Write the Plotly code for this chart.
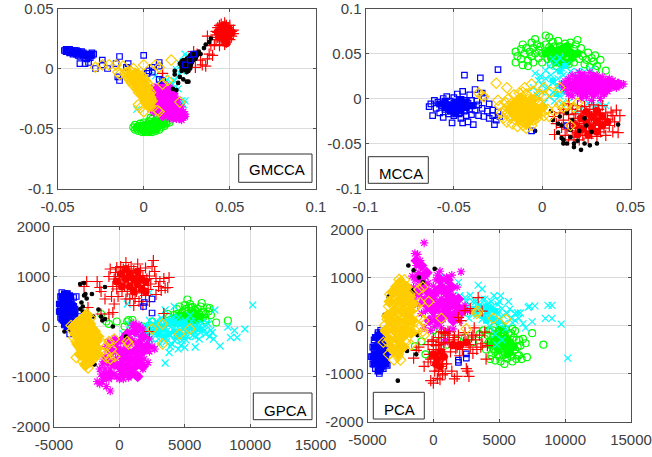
import plotly.graph_objects as go

W, H = 652, 457

# ---------- GMCCA ----------
g1_green = [(-.006,-.049),(-.005,-.047),(-.005,-.051),(-.004,-.05),(-.003,-.048),(-.003,-.052),(-.002,-.046),(-.002,-.05),(-.001,-.053),(-.001,-.048),(0,-.051),(0,-.045),(.001,-.049),(.001,-.053),(.002,-.047),(.002,-.051),(.003,-.044),(.003,-.049),(.003,-.053),(.004,-.046),(.004,-.051),(.005,-.042),(.005,-.048),(.005,-.053),(.006,-.045),(.006,-.05),(.007,-.043),(.007,-.047),(.007,-.052),(.008,-.049),(.008,-.045),(.009,-.051),(.009,-.047),(.01,-.044),(.01,-.049),(.011,-.046),(.012,-.048),(.012,-.045),(.013,-.046),(.014,-.044),(.015,-.045),(.004,-.041)]
g1_cyan = [(.024,.012),(.021,.004),(.022,-.002),(.02,-.006),(.018,-.01),(.016,-.012),(.013,-.01),(.012,-.008),(.009,-.012),(.007,-.006),(.017,-.019),(.02,-.017),(.023,-.03),(.024,-.027),(.021,-.03),(-.004,-.034),(.015,-.03),(.016,-.014),(.018,-.016),(.026,.01),(.023,.006),(.019,-.001),(.014,-.015),(.011,-.011),(.022,-.027),(.025,.009),(.023,-.002)]
g1_magenta = [(.005,-.018),(.005,-.023),(.006,-.016),(.006,-.021),(.006,-.027),(.007,-.02),(.007,-.025),(.007,-.031),(.008,-.015),(.008,-.019),(.008,-.024),(.008,-.029),(.008,-.034),(.009,-.017),(.009,-.022),(.009,-.027),(.009,-.032),(.01,-.014),(.01,-.019),(.01,-.024),(.01,-.03),(.01,-.036),(.011,-.016),(.011,-.021),(.011,-.026),(.011,-.033),(.012,-.013),(.012,-.018),(.012,-.023),(.012,-.029),(.012,-.037),(.013,-.015),(.013,-.02),(.013,-.026),(.013,-.032),(.013,-.039),(.014,-.018),(.014,-.023),(.014,-.03),(.014,-.036),(.015,-.016),(.015,-.021),(.015,-.027),(.015,-.034),(.015,-.041),(.016,-.019),(.016,-.025),(.016,-.031),(.016,-.038),(.017,-.022),(.017,-.028),(.017,-.035),(.017,-.042),(.018,-.025),(.018,-.031),(.018,-.038),(.019,-.028),(.019,-.035),(.019,-.042),(.02,-.026),(.02,-.032),(.02,-.039),(.021,-.034),(.021,-.04),(.022,-.032),(.022,-.038),(.022,-.043),(.023,-.036),(.023,-.041),(.024,-.04),(.024,-.038),(.004,-.034),(.006,-.037),(.011,-.04)]
g1_red = [(.042,.031),(.042,.028),(.043,.034),(.043,.03),(.043,.026),(.044,.036),(.044,.032),(.044,.028),(.044,.024),(.045,.037),(.045,.033),(.045,.029),(.045,.025),(.046,.035),(.046,.031),(.046,.027),(.046,.023),(.047,.038),(.047,.033),(.047,.029),(.047,.024),(.047,.02),(.048,.036),(.048,.031),(.048,.027),(.048,.022),(.049,.034),(.049,.03),(.049,.025),(.05,.036),(.05,.032),(.05,.028),(.05,.024),(.051,.031),(.051,.027),(.052,.029),(.052,.032),(.038,.012),(.033,.007),(.031,.012),(.036,.002),(.029,.014),(.011,-.004),(.041,.02),(.044,.019),(.037,.027),(.042,.024),(.04,.011),(.037,.008),(.03,.001),(.039,.019),(.034,.003)]
g1_black = [(.021,.004),(.022,.006),(.022,.001),(.023,.003),(.023,.007),(.024,-.001),(.024,.005),(.024,.002),(.025,.008),(.025,.004),(.025,-.003),(.025,0),(.026,.006),(.026,.002),(.026,-.002),(.026,.009),(.027,.004),(.027,.011),(.027,.007),(.027,0),(.028,.009),(.028,.005),(.028,.012),(.029,.007),(.029,.01),(.03,.013),(.03,.008),(.031,.011),(.032,.014),(.033,.012),(.036,.02),(.038,.022),(.035,.017),(.018,-.002),(.02,-.012),(.025,-.011),(.017,-.017),(.022,-.002),(.018,-.005),(.021,-.007),(.023,-.009),(.026,-.011),(.019,-.018),(.039,.025)]
g1_blue = [(-.046,.015),(-.045,.014),(-.045,.016),(-.044,.015),(-.043,.013),(-.043,.016),(-.042,.015),(-.041,.014),(-.041,.012),(-.04,.015),(-.04,.013),(-.039,.012),(-.039,.015),(-.038,.014),(-.038,.011),(-.037,.013),(-.037,.01),(-.036,.012),(-.036,.014),(-.035,.011),(-.035,.013),(-.034,.009),(-.034,.012),(-.033,.011),(-.033,.008),(-.032,.01),(-.031,.012),(-.031,.009),(-.03,.011),(-.03,.013),(-.029,.012),(-.037,.004),(-.034,.004),(-.032,.005),(-.028,0),(-.024,.007),(-.024,.003),(-.021,0),(-.016,.004),(-.014,.01),(-.014,-.01),(-.015,-.007),(-.01,.001),(-.009,.004),(0,.011),(.003,-.002),(.005,-.003),(.002,-.004),(.009,.005),(.009,-.009),(.011,-.01),(.009,.002),(.005,.001),(.027,.007),(.024,.003),(.029,.012)]
g1_yellow = [(-.011,-.004),(-.01,-.006),(-.009,-.003),(-.009,-.008),(-.008,-.005),(-.008,-.01),(-.007,-.003),(-.007,-.008),(-.007,-.012),(-.006,-.006),(-.006,-.01),(-.006,-.014),(-.005,-.004),(-.005,-.008),(-.005,-.012),(-.004,-.006),(-.004,-.01),(-.004,-.014),(-.004,-.017),(-.003,-.005),(-.003,-.009),(-.003,-.013),(-.003,-.017),(-.003,-.02),(-.002,-.007),(-.002,-.011),(-.002,-.015),(-.002,-.019),(-.001,-.006),(-.001,-.01),(-.001,-.014),(-.001,-.018),(-.001,-.022),(0,-.008),(0,-.012),(0,-.016),(0,-.02),(0,-.024),(.001,-.01),(.001,-.014),(.001,-.018),(.001,-.022),(.001,-.026),(.002,-.012),(.002,-.016),(.002,-.02),(.002,-.024),(.002,-.028),(.003,-.014),(.003,-.018),(.003,-.022),(.003,-.026),(.003,-.03),(.004,-.02),(.004,-.024),(.004,-.028),(-.028,.001),(-.024,.003),(-.02,.003),(-.016,.003),(-.012,.002),(-.015,-.003),(-.014,-.005),(-.006,0),(0,.003),(.007,.003),(.009,.001),(.016,.007),(.011,-.013),(.014,-.01),(.004,-.025),(.005,-.027),(.021,-.028),(.008,-.035),(.009,-.036),(-.003,-.03),(0,-.036),(.004,-.031),(-.002,-.033)]
# dense middles of the GMCCA clusters
g1_green_core = [(-.004,-.049),(-.002,-.05),(0,-.049),(.002,-.05),(.004,-.05),(.006,-.049),(.008,-.048),(.01,-.047),(.012,-.046),(.004,-.046),(.007,-.044),(.001,-.047),(0,-.052),(.004,-.052),(.007,-.051)]
g1_cyan_core = []
g1_magenta_core = [(.006,-.02),(.009,-.016),(.012,-.015),(.015,-.017),(.017,-.021),(.007,-.025),(.011,-.021),(.014,-.022),(.018,-.026),(.008,-.03),(.012,-.027),(.015,-.028),(.019,-.031),(.009,-.035),(.013,-.033),(.016,-.034),(.02,-.036),(.011,-.039),(.015,-.039),(.018,-.04),(.021,-.041),(.023,-.04)]
g1_red_core = [(.043,.03),(.045,.026),(.045,.034),(.047,.03),(.047,.024),(.047,.036),(.049,.028),(.049,.033),(.051,.03),(.048,.021)]
g1_black_core = [(.024,.002),(.026,.005),(.025,-.001),(.028,.008),(.027,.003),(.03,.01)]
g1_blue_core = [(-.045,.015),(-.042,.014),(-.039,.013),(-.036,.012),(-.033,.011),(-.031,.011)]
g1_yellow_core = [(-.008,-.006),(-.005,-.005),(-.006,-.01),(-.003,-.009),(-.004,-.014),(-.001,-.012),(-.002,-.018),(.001,-.017),(0,-.022),(.003,-.021),(.001,-.027),(.004,-.027),(.003,-.031),(-.003,-.006)]

# ---------- MCCA ----------
g2_green = [(-.015,.04),(-.015,.052),(-.014,.047),(-.012,.055),(-.012,.044),(-.011,.037),(-.011,.06),(-.01,.05),(-.009,.056),(-.008,.042),(-.008,.036),(-.007,.052),(-.006,.062),(-.006,.047),(-.005,.04),(-.005,.056),(-.004,.066),(-.004,.05),(-.003,.06),(-.002,.045),(-.002,.054),(-.001,.058),(0,.04),(0,.05),(.002,.07),(.002,.06),(.003,.052),(.003,.044),(.004,.068),(.004,.057),(.005,.047),(.005,.038),(.006,.063),(.006,.053),(.007,.042),(.007,.058),(.008,.048),(.008,.036),(.009,.064),(.009,.053),(.01,.043),(.01,.058),(.011,.048),(.012,.037),(.012,.056),(.013,.061),(.013,.05),(.014,.044),(.015,.057),(.015,.038),(.016,.062),(.016,.051),(.017,.046),(.018,.055),(.018,.04),(.019,.06),(.02,.05),(.02,.065),(.021,.044),(.022,.056),(.023,.047),(.024,.038),(.025,.043),(.026,.051),(.027,.035),(.028,.045),(.029,.041),(.03,.048),(.031,.036),(.036,.031),(.033,.043),(.03,.032)]
g2_cyan = [(-.005,.012),(-.003,.004),(-.002,.02),(-.004,.028),(-.001,.025),(0,.015),(0,.007),(.001,-.005),(.002,.031),(.002,.022),(.003,.012),(.004,.002),(.004,.036),(.005,.026),(.006,.017),(.006,.007),(.007,-.003),(.008,.04),(.008,.031),(.009,.022),(.009,.012),(.01,.045),(.01,.003),(.011,.034),(.011,-.006),(.012,.026),(.013,.016),(.013,.006),(.014,.038),(.015,-.004),(.016,.03),(.017,-.01),(.018,.008),(.019,-.014),(.02,.03),(.022,-.012),(.024,.03),(.026,-.005),(.028,.032),(.03,-.008),(.033,-.006),(.036,-.008),(.006,.044)]
g2_magenta = [(.011,.016),(.012,.012),(.013,.019),(.014,.015),(.014,.009),(.015,.022),(.015,.005),(.016,.017),(.016,.012),(.017,.026),(.017,.003),(.018,.019),(.018,.009),(.019,.014),(.019,.024),(.02,.006),(.02,.018),(.021,.029),(.021,.011),(.022,.022),(.022,0),(.023,.015),(.023,.005),(.024,.026),(.024,.01),(.025,.019),(.025,.002),(.026,.013),(.026,.023),(.027,.007),(.027,.029),(.028,.017),(.028,-.002),(.029,.011),(.029,.024),(.03,.004),(.03,.018),(.031,.013),(.031,.026),(.032,.008),(.032,.02),(.033,.015),(.033,0),(.034,.024),(.034,.01),(.035,.017),(.035,.005),(.036,.021),(.036,.012),(.037,.016),(.037,.008),(.038,.022),(.038,.011),(.039,.017),(.04,.013),(.04,.02),(.041,.015),(.042,.012),(.043,.017),(.044,.014),(.045,.016),(.046,.016)]
g2_red = [(.007,-.02),(.008,-.028),(.007,-.04),(.01,-.016),(.011,-.032),(.012,-.012),(.012,-.024),(.013,-.041),(.014,-.034),(.015,-.006),(.015,-.018),(.015,-.046),(.016,-.028),(.017,-.036),(.017,-.012),(.018,-.022),(.018,-.043),(.019,-.03),(.019,-.017),(.02,-.038),(.02,-.008),(.021,-.025),(.021,-.046),(.022,-.033),(.022,-.014),(.023,-.02),(.023,-.041),(.024,-.028),(.024,-.009),(.025,-.036),(.025,-.016),(.026,-.024),(.026,-.044),(.027,-.031),(.027,-.012),(.028,-.02),(.028,-.039),(.029,-.027),(.029,-.007),(.03,-.034),(.03,-.015),(.031,-.023),(.031,-.042),(.032,-.03),(.032,-.012),(.033,-.037),(.033,-.019),(.034,-.026),(.034,-.008),(.035,-.033),(.036,-.016),(.036,-.041),(.037,-.023),(.038,-.03),(.039,-.015),(.04,-.037),(.04,-.019),(.041,-.026),(.042,-.013),(.043,-.038),(.044,-.019)]
g2_black = [(.006,-.024),(.005,-.014),(.009,-.028),(.009,-.038),(.011,-.044),(.012,-.05),(.012,-.046),(.014,-.05),(.016,-.035),(.018,-.05),(.018,-.054),(.02,-.047),(.022,-.057),(.024,-.05),(.025,-.03),(.027,-.052),(.031,-.05),(.043,-.029),(.017,-.024),(.014,-.016),(.021,-.036),(.024,-.022),(.028,-.037),(.011,-.03),(.016,-.043),(-.004,-.036),(.01,-.02)]
g2_blue = [(-.064,-.009),(-.063,-.006),(-.062,-.019),(-.061,-.002),(-.06,-.011),(-.059,-.004),(-.058,-.016),(-.057,-.008),(-.056,0),(-.056,-.021),(-.055,-.012),(-.055,-.005),(-.054,.002),(-.053,-.017),(-.053,-.009),(-.052,-.003),(-.052,-.014),(-.051,-.027),(-.051,-.007),(-.05,-.011),(-.05,.001),(-.05,-.019),(-.049,-.005),(-.049,-.014),(-.048,-.009),(-.048,.005),(-.047,-.002),(-.047,-.017),(-.046,-.011),(-.046,-.022),(-.045,-.006),(-.045,.008),(-.045,-.027),(-.044,-.014),(-.044,-.002),(-.043,-.009),(-.043,-.019),(-.042,-.026),(-.042,-.005),(-.041,-.012),(-.041,.004),(-.04,-.018),(-.04,-.002),(-.039,-.029),(-.039,-.008),(-.038,.01),(-.038,-.013),(-.037,-.003),(-.036,-.019),(-.036,-.007),(-.034,-.011),(-.033,.001),(-.033,-.02),(-.031,-.014),(-.03,-.006),(-.03,-.022),(-.028,-.013),(-.028,-.019),(-.027,-.029),(-.026,-.024),(-.025,-.015),(-.024,-.02),(-.044,.026),(-.035,.023),(-.025,.032),(-.006,-.036),(.014,-.03),(-.034,.006)]
g2_yellow = [(-.025,-.002),(-.024,-.008),(-.023,-.016),(-.022,-.022),(-.021,-.012),(-.021,-.004),(-.02,-.026),(-.02,-.017),(-.019,-.008),(-.019,0),(-.018,-.021),(-.018,-.012),(-.017,-.028),(-.017,-.005),(-.016,-.018),(-.016,.004),(-.015,-.01),(-.015,-.024),(-.014,-.031),(-.014,-.015),(-.014,-.002),(-.013,-.021),(-.013,-.008),(-.013,.006),(-.012,-.027),(-.012,-.013),(-.012,-.003),(-.011,-.03),(-.011,-.018),(-.011,-.007),(-.011,.007),(-.01,-.023),(-.01,-.011),(-.01,-.002),(-.009,-.033),(-.009,-.016),(-.009,-.007),(-.009,.005),(-.008,-.026),(-.008,-.012),(-.008,-.001),(-.007,-.021),(-.007,-.006),(-.006,-.03),(-.006,-.015),(-.006,-.003),(-.005,-.024),(-.005,-.009),(-.005,.008),(-.004,-.018),(-.004,-.002),(-.003,-.012),(-.003,-.022),(-.002,-.005),(-.002,.004),(-.001,-.016),(0,-.01),(.001,-.019),(.001,.003),(.003,-.012),(-.036,.006),(-.033,.002),(-.026,.017),(-.02,.012),(-.01,.012),(-.006,.016),(.01,.012),(.005,.007),(.012,-.01),(.008,-.012),(.014,-.008),(.016,-.03),(.02,-.005),(.018,-.01),(.004,-.02),(-.034,.003),(.001,.012),(.01,-.007)]
# dense middles of the MCCA clusters
g2_green_core = [(.002,.05),(.005,.045),(.005,.055),(.008,.05),(.008,.04),(.011,.045),(.011,.055),(.014,.05),(.014,.04),(.017,.05),(.017,.045),(.02,.05),(.011,.038),(.014,.058)]
g2_cyan_core = [(.006,.02),(.009,.014),(.01,.03),(.012,.008),(.013,.036),(.008,.005)]
g2_magenta_core = [(.017,.014),(.02,.02),(.02,.01),(.023,.015),(.023,.006),(.023,.024),(.026,.012),(.026,.02),(.029,.015),(.029,.006),(.029,.023),(.032,.012),(.032,.02),(.035,.015),(.035,.007),(.038,.014),(.038,.019),(.041,.015),(.043,.016)]
g2_red_core = [(.019,-.03),(.02,-.04),(.022,-.022),(.023,-.034),(.025,-.015),(.025,-.027),(.026,-.04),(.028,-.02),(.028,-.032),(.031,-.025),(.031,-.014),(.031,-.037),(.034,-.03),(.034,-.02),(.037,-.026)]
g2_black_core = []
g2_blue_core = [(-.058,-.006),(-.055,-.01),(-.055,-.003),(-.052,-.007),(-.052,-.014),(-.049,-.004),(-.049,-.011),(-.046,-.007),(-.046,-.014),(-.046,-.001),(-.043,-.01),(-.043,-.004),(-.04,-.008),(-.049,-.017)]
g2_yellow_core = [(-.018,-.012),(-.015,-.006),(-.015,-.018),(-.012,0),(-.012,-.012),(-.012,-.024),(-.009,-.006),(-.009,-.018),(-.009,-.028),(-.006,-.012),(-.006,-.002),(-.006,-.022),(-.003,-.012),(-.003,-.018),(0,-.01)]

# ---------- GPCA ----------
g3_green = [(4000,150),(4200,230),(4300,80),(4400,350),(4500,200),(4600,400),(4700,100),(4800,280),(4900,180),(5000,430),(5000,320),(5100,130),(5200,540),(5200,250),(5300,380),(5300,100),(5400,450),(5400,200),(5500,300),(5500,120),(5600,390),(5600,220),(5700,170),(5700,280),(5800,330),(5800,100),(5900,210),(6000,350),(6000,130),(6100,250),(6200,400),(6300,470),(6300,180),(6400,300),(6600,120),(6800,300),(6900,370),(7000,230),(7400,80),(8300,120),(-1400,250),(-1000,100),(-200,100),(600,100),(400,0),(1800,0),(2500,100),(-800,50),(700,130),(3400,80),(3800,190),(1000,130),(4100,100),(4400,250),(4800,150),(5100,350),(5500,380),(5800,250),(6100,150),(6400,180),(6600,250),(6700,380),(5200,50),(3700,250)]
g3_cyan = [(300,-150),(600,450),(800,40),(1100,-100),(1300,-50),(1600,-150),(1900,20),(2000,-250),(2200,-100),(2300,120),(2400,-350),(2500,40),(2700,-150),(2800,100),(3000,-50),(3000,-250),(3200,170),(3300,-100),(3400,20),(3500,-230),(3500,-730),(3600,120),(3700,-70),(3800,-520),(3800,50),(3900,-170),(4000,130),(4100,-60),(4200,-280),(4300,30),(4400,-130),(4500,180),(4600,-60),(4700,-380),(4800,60),(4900,-170),(5000,120),(5100,-270),(5200,10),(5300,-100),(5400,220),(5500,-20),(5600,-180),(5800,-410),(5900,-50),(6000,50),(6200,-120),(6400,-30),(6600,-150),(6900,-200),(7000,-70),(7200,-250),(7300,330),(7700,-390),(8300,-10),(8500,-220),(8800,-80),(9000,-220),(9600,-50),(10200,430),(2300,680),(3500,330),(4200,400),(6700,80),(2000,-100),(2500,-250),(2700,30),(3100,-350),(3300,120),(3600,-300),(4000,-350),(4100,180),(4400,-250),(4800,-280),(5200,-200),(5500,100),(5800,-200),(6100,-250),(6300,60),(6500,-80),(6800,50),(7100,-120),(5000,-420),(4500,-450),(3900,-400),(3100,-100),(2400,-50)]
g3_magenta = [(-1700,-1100),(-1500,-1150),(-1400,-950),(-1300,-1100),(-1300,-750),(-1200,-1000),(-1100,-850),(-1100,-600),(-1000,-1200),(-1000,-950),(-900,-700),(-900,-450),(-800,-1050),(-700,-1290),(-700,-850),(-700,-600),(-600,-1000),(-600,-350),(-500,-750),(-500,-500),(-400,-950),(-400,-250),(-300,-650),(-200,-1000),(-200,-400),(-100,-800),(0,-550),(0,-1050),(100,-300),(100,-900),(200,-700),(300,-1050),(300,-450),(400,-800),(400,-200),(500,-600),(500,-950),(600,-350),(700,-1020),(700,-750),(800,-100),(800,-500),(900,-850),(1000,-280),(1000,-650),(1000,20),(1100,-950),(1200,-450),(1300,-780),(1300,-120),(1400,-1000),(1400,-600),(1500,-300),(1600,-750),(1600,-30),(1700,-500),(1800,-850),(1900,-650),(2000,-200),(2100,-350),(2200,-720),(2300,-500),(2500,-400),(2000,-450),(1100,60),(1300,-20),(-1500,-850),(-1200,-650),(-1000,-400),(-800,-300),(2700,-450),(2300,-250),(1800,-50),(1500,30)]
g3_red = [(-800,1000),(-700,1150),(-600,600),(-500,800),(-400,950),(-400,450),(-300,1080),(-200,1180),(-200,750),(-100,600),(0,1000),(100,1200),(100,850),(200,950),(200,700),(300,1150),(400,1050),(400,800),(500,550),(500,1280),(600,1000),(600,700),(700,1150),(700,870),(800,1020),(800,550),(900,1200),(900,780),(1000,950),(1000,650),(1100,1120),(1100,420),(1200,850),(1200,560),(1300,1010),(1300,700),(1400,1250),(1400,930),(1500,780),(1500,500),(1600,1120),(1600,880),(1700,670),(1800,1020),(1800,430),(1900,820),(2000,1170),(2000,620),(2100,950),(2200,740),(2300,1010),(2300,500),(2400,850),(2500,1200),(2600,1320),(2700,1100),(2800,960),(2800,640),(3000,800),(3100,900),(3200,720),(3400,960),(3500,770),(3700,780),(3800,980),(-1700,900),(-1500,780),(-1400,700),(-2700,800),(-2500,900),(-2400,380),(-1400,250),(-800,250),(-500,280),(2300,-100),(3400,260),(-1100,550)]
g3_black = [(-3000,850),(-2700,870),(-2600,650),(-2500,560),(-2100,650),(-2900,480),(-2800,400),(-3000,350),(-1600,340),(-1100,790),(-1400,200),(-1100,150),(-4200,-100),(-3800,-50),(-1900,-760),(500,-200),(-500,0),(-2000,200),(-1300,120),(-1800,-100),(-2700,620),(-2800,300)]
g3_blue = [(-4600,450),(-4600,300),(-4500,600),(-4500,350),(-4500,180),(-4400,500),(-4400,250),(-4400,680),(-4300,400),(-4300,120),(-4300,560),(-4200,280),(-4200,650),(-4200,30),(-4100,450),(-4100,160),(-4100,580),(-4000,350),(-4000,660),(-4000,80),(-3900,230),(-3900,500),(-3900,0),(-3800,400),(-3800,620),(-3800,130),(-3700,300),(-3700,530),(-3600,180),(-3600,430),(-3500,280),(-3500,580),(-3400,350),(-3300,600),(-3000,200),(-3800,-150),(1900,480),(1850,400),(2500,550),(2500,270),(-3600,100)]
g3_yellow = [(-3700,20),(-3600,-80),(-3500,0),(-3500,-220),(-3400,-130),(-3300,-620),(-3300,60),(-3300,-300),(-3200,-210),(-3100,100),(-3100,-80),(-3100,-400),(-3000,-270),(-3000,-570),(-2900,0),(-2900,-180),(-2900,-460),(-2800,170),(-2800,-350),(-2800,-700),(-2700,-90),(-2700,-260),(-2700,-540),(-2600,60),(-2600,-430),(-2600,-780),(-2500,250),(-2500,-170),(-2500,-320),(-2500,-650),(-2400,0),(-2400,-500),(-2400,-830),(-2300,-100),(-2300,-250),(-2300,-400),(-2300,-720),(-2200,170),(-2200,-580),(-2100,-30),(-2100,-330),(-2100,-480),(-2000,-180),(-2000,-650),(-1900,-400),(-1900,-90),(-1800,-270),(-1800,-530),(-1700,-450),(-1600,-200),(-1000,-400),(-700,-650),(-350,-600),(-1000,-550),(-800,-300),(-600,-450),(-400,-250),(600,-300),(700,-350),(2500,-50),(3300,50),(4600,-150),(5400,-50),(3300,-350),(-1000,-620),(-1200,-350)]
# dense middles of the GPCA clusters
g3_green_core = [(4300,180),(4700,220),(5100,200),(5500,230),(5900,220),(5300,130),(5700,130),(6200,200),(4500,120)]
g3_cyan_core = [(1800,-50),(2200,0),(2600,-100),(3000,-150),(3000,50),(3400,-50),(3800,-150),(3800,50),(4200,-100),(4200,80),(4600,-100),(4600,50),(5000,-30),(5000,80),(5400,0),(1400,-150),(5800,-20),(3400,-200),(4400,-200),(5200,-100),(5700,-100),(6100,-50),(2800,-50),(4800,-200),(3600,100)]
g3_magenta_core = [(-1100,-1000),(-900,-700),(-700,-950),(-600,-500),(-400,-750),(-300,-300),(0,-500),(0,-800),(300,-650),(300,-250),(300,-950),(600,-500),(600,-150),(600,-800),(900,-300),(900,-650),(900,-950),(1200,-500),(1200,-100),(1200,-800),(1500,-350),(1500,-650),(1800,-500),(1800,-200),(1800,-800),(2100,-400),(1400,-1000)]
g3_red_core = [(-200,900),(100,1050),(200,800),(500,950),(500,1150),(800,800),(800,1050),(1100,950),(1100,700),(1400,1100),(1400,850),(1700,950),(1700,750),(2000,900),(2000,700)]
g3_black_core = []
g3_blue_core = [(-4300,350),(-4300,500),(-4300,200),(-4100,100),(-4100,300),(-4100,450),(-4100,600),(-3900,200),(-3900,350),(-3900,500),(-3700,300),(-3700,450),(-3600,350),(-4500,450),(-4500,300),(-4400,600),(-4400,150),(-4200,650),(-4200,50),(-4000,650),(-3800,600),(-3700,150),(-3500,400),(-3400,250),(-4000,0)]
g3_yellow_core = [(-3000,-100),(-3000,-300),(-2700,0),(-2700,-200),(-2700,-400),(-2700,-600),(-2400,100),(-2400,-100),(-2400,-300),(-2400,-500),(-2400,-700),(-2100,-100),(-2100,-300),(-2100,-500),(-1800,-300),(-1800,-450),(-2500,200),(-3500,0),(-3300,-150),(-3300,50),(-3200,-350),(-2900,100),(-2900,-450),(-2600,200),(-2600,-750),(-2250,50),(-2200,-650),(-1900,-100),(-1700,-200),(-1700,-550),(-3000,-550)]

# ---------- PCA ----------
g4_green = [(-1400,-430),(-900,-330),(-600,-600),(400,-200),(0,-100),(1000,-400),(1800,-300),(2400,-250),(3000,-350),(3500,-180),(3900,-280),(4000,-500),(4200,-100),(4300,-400),(4400,-620),(4500,-250),(4600,-30),(4600,-500),(4700,-730),(4800,-180),(4800,-380),(4900,-600),(5000,-280),(5000,-100),(5100,-480),(5100,-750),(5200,-20),(5200,-370),(5300,-620),(5300,-200),(5400,-800),(5500,-470),(5500,-80),(5600,-300),(5600,-690),(5700,-180),(5800,-560),(5900,-400),(6000,-750),(6000,-70),(6200,-500),(6300,-300),(6200,-110),(6500,-620),(6600,-420),(6700,-700),(6800,-280),(7000,-370),(7100,-660),(7500,-160),(8350,-400),(5900,-160),(6400,-630),(4100,-200),(4300,-700),(4500,-100),(4700,-550),(5000,-650),(5300,-500),(5400,-150),(5700,-400),(5900,-650),(6100,-250),(6300,-700),(6400,-450),(6500,-300),(4200,-350),(3800,-100)]
g4_cyan = [(1900,900),(2000,620),(2400,580),(2600,400),(2800,630),(3000,500),(3300,210),(3400,840),(3500,420),(3700,760),(3700,130),(3900,550),(4000,250),(4200,380),(4300,-20),(4400,500),(4500,140),(4600,620),(4700,-180),(4800,300),(4900,440),(5000,30),(5100,620),(5200,-300),(5300,210),(5500,-70),(5700,500),(5800,340),(6000,60),(6200,100),(6400,260),(6500,150),(6600,260),(6800,40),(7000,-50),(7200,380),(7300,400),(7500,80),(7700,410),(8500,150),(8700,420),(9000,420),(9000,150),(9700,30),(10200,-680),(3000,350),(3600,300),(4200,130),(4800,-400),(1000,900),(500,1000),(2100,300),(2500,500),(2900,250),(3200,500),(3400,330),(3700,550),(3900,350),(4100,450),(4300,250),(4500,400),(4700,150),(4900,250),(5000,500),(5200,350),(5400,50),(5600,250),(5900,150),(6200,250),(2700,150)]
g4_magenta = [(-1600,1030),(-1500,800),(-1500,550),(-1400,1500),(-1400,950),(-1300,650),(-1300,1250),(-1200,1480),(-1200,430),(-1100,1100),(-1100,820),(-1000,1350),(-1000,600),(-900,950),(-900,250),(-800,1200),(-800,480),(-700,1720),(-700,780),(-700,-50),(-600,1020),(-600,300),(-500,580),(-400,880),(-400,120),(-300,400),(-200,700),(-200,-100),(-100,500),(0,820),(0,200),(100,640),(100,-20),(200,950),(200,400),(300,1050),(300,120),(400,700),(500,1130),(500,300),(600,550),(600,-50),(700,820),(700,130),(800,420),(800,980),(900,650),(900,-350),(1000,220),(1000,1000),(1100,500),(1100,-100),(1200,780),(1300,370),(1400,1050),(1400,120),(1500,620),(1500,-70),(1600,240),(1700,430),(1800,800),(2100,1120),(2000,100),(2200,350),(2400,420),(2600,300),(900,-300)]
g4_red = [(-1500,-680),(-1300,-520),(-1100,-450),(-700,-850),(-400,-400),(-400,-760),(-300,-600),(-200,-1150),(0,-1200),(0,-500),(-100,-330),(100,-950),(100,-680),(200,-420),(200,-830),(300,-1100),(300,-600),(400,-250),(400,-950),(400,-740),(500,-1130),(500,-500),(600,-850),(600,-130),(700,-1030),(700,-650),(800,-380),(900,-1000),(900,-170),(1000,-800),(1200,-130),(1300,-550),(1400,-950),(1500,-300),(1600,-1110),(1700,-480),(1800,-1060),(1900,-200),(2000,-630),(2100,100),(2300,-350),(2400,310),(2500,-900),(2700,-1060),(2700,-400),(2800,350),(2900,-240),(3000,-580),(3100,-50),(3300,-500),(3400,580),(3500,-200),(3700,300),(3700,-380),(3900,-140),(4100,-420),(4000,-700),(2600,-950),(1100,-200),(1900,170),(0,-300),(200,-600),(600,-350),(800,-150),(1200,-350),(1600,-250),(1800,-450),(2200,-500),(2400,-150),(2800,-450),(3200,-300),(3000,-200),(3600,-450),(-200,-700),(400,-400),(700,-800)]
g4_black = [(-1900,1250),(-1500,1150),(100,1180),(-2000,750),(-1300,-600),(-2000,-530),(-2700,-1150),(-3500,200),(-3400,600),(-3700,220),(-1700,750),(-1600,700),(-3200,700),(-2600,800),(-2300,900),(-2000,250),(-1100,1000),(-3000,-100),(-1200,-200),(-800,900)]
g4_blue = [(-4700,-650),(-4600,-450),(-4600,-800),(-4500,-550),(-4500,-300),(-4400,-700),(-4400,-900),(-4300,-450),(-4300,-250),(-4300,-600),(-4200,-800),(-4200,-150),(-4200,-400),(-4100,-550),(-4100,-950),(-4100,-700),(-4100,-1000),(-4000,-300),(-4000,-100),(-4000,-480),(-4000,-850),(-3900,-620),(-3900,-200),(-3800,-400),(-3800,-750),(-3800,-900),(-3700,-550),(-3700,-300),(-3600,-650),(-3600,-450),(-3500,-830),(-3500,-550),(1900,-770),(1900,-720),(2500,-590),(2500,-680),(-3300,-550),(-4500,-800)]
g4_yellow = [(-3700,0),(-3600,-130),(-3500,130),(-3500,-340),(-3400,400),(-3400,-50),(-3400,-600),(-3300,650),(-3300,230),(-3200,-180),(-3200,450),(-3100,30),(-3100,-400),(-3100,700),(-3000,310),(-3000,-100),(-3000,-720),(-2900,560),(-2900,130),(-2900,-310),(-2800,810),(-2800,-500),(-2800,-30),(-2700,400),(-2700,230),(-2700,-650),(-2600,960),(-2600,620),(-2600,60),(-2600,-210),(-2500,-720),(-2500,320),(-2500,720),(-2400,-100),(-2400,880),(-2300,500),(-2300,130),(-2300,-200),(-2200,950),(-2200,640),(-2200,310),(-2100,50),(-2100,-350),(-2000,800),(-2000,450),(-1900,180),(-1900,-80),(-1800,650),(-1800,300),(-1700,500),(-1700,-400),(-1600,120),(-1500,350),(-1400,-100),(-1100,750),(-800,800),(-1000,480),(-350,500),(600,150),(-1000,150),(-700,100),(-700,-200),(3350,300),(3300,250),(4550,150),(5500,130),(2500,-70),(-3800,-350),(-2300,-200),(-1300,400),(-1100,-50),(-800,-120)]
# dense middles of the PCA clusters
g4_green_core = [(4600,-300),(4900,-200),(4900,-500),(5200,-350),(5200,-100),(5500,-450),(5500,-250),(5800,-350),(5800,-550),(6100,-450),(4800,-350),(4400,-400),(5000,-400),(5600,-600)]
g4_cyan_core = [(3500,400),(3800,200),(4100,300),(4400,150),(4700,300),(3100,350),(4000,100),(5000,100),(4400,350),(4000,400),(3700,350),(3200,250),(4600,100)]
g4_magenta_core = [(-1300,1350),(-1200,1000),(-1100,700),(-900,1250),(-900,1000),(-700,850),(-700,500),(-400,700),(-400,400),(-300,100),(-100,550),(0,300),(200,700),(300,400),(300,100),(500,950),(600,500),(700,200),(900,700),(1000,350),(1100,950),(1200,550),(1300,200),(1500,450),(1800,400),(1400,800),(500,100),(800,250),(1000,700),(1300,600),(1500,100),(1700,250),(1900,550),(2200,300),(600,800),(-500,1100)]
g4_red_core = [(300,-700),(500,-850),(600,-550),(1500,-400),(2000,-400),(2500,-350),(0,-600),(200,-800),(800,-650)]
g4_black_core = []
g4_blue_core = [(-4400,-600),(-4300,-450),(-4300,-750),(-4100,-300),(-4100,-550),(-4100,-800),(-3900,-400),(-3900,-650),(-3900,-850),(-3700,-500),(-3700,-700),(-4200,-200),(-4000,-900),(-4600,-650),(-4500,-450),(-4500,-800),(-4400,-250),(-4200,-950),(-4000,-150),(-3700,-300),(-3600,-800),(-3600,-550)]
g4_yellow_core = [(-3200,100),(-2950,-100),(-2950,300),(-2700,-300),(-2700,100),(-2700,500),(-2400,-100),(-2400,300),(-2400,650),(-2100,100),(-2100,500),(-2100,800),(-1800,300),(-1800,600),(-1600,450),(-2500,-450),(-2200,-200),(-3600,-100),(-3500,200),(-3300,-300),(-3300,500),(-3100,-500),(-3000,700),(-2800,800),(-2700,-600),(-2500,900),(-2300,-450),(-2000,-100),(-1900,150),(-1600,100),(-1700,-150)]

tick_p1_x = [-0.05, 0, 0.05, 0.1]
tick_p1_y = [-0.1, -0.05, 0, 0.05]
tick_p2_x = [-0.1, -0.05, 0, 0.05]
tick_p2_y = [-0.1, -0.05, 0, 0.05, 0.1]
tick_pca_x = [-5000, 0, 5000, 10000, 15000]
tick_pca_y = [-2000, -1000, 0, 1000, 2000]
names = ["GMCCA", "MCCA", "GPCA", "PCA"]

# symbol, colour, size, filled symbol for the dense middle, its size (stacking order)
styles = [("circle-open", "#00ff00", 7, "circle", 8), ("x-thin-open", "#00ffff", 7, "square", 6),
          ("asterisk-open", "#ff00ff", 7, "diamond", 9), ("cross-thin-open", "#ff0000", 8, "circle", 8),
          ("circle", "#000000", 3.5, "circle", 6), ("square-open", "#0000ff", 5.5, "square", 7),
          ("diamond-open", "#ffcc00", 8, "diamond", 10)]
panels = [
    [g1_green, g1_cyan, g1_magenta, g1_red, g1_black, g1_blue, g1_yellow],
    [g2_green, g2_cyan, g2_magenta, g2_red, g2_black, g2_blue, g2_yellow],
    [g3_green, g3_cyan, g3_magenta, g3_red, g3_black, g3_blue, g3_yellow],
    [g4_green, g4_cyan, g4_magenta, g4_red, g4_black, g4_blue, g4_yellow],
]
cores = [
    [g1_green_core, g1_cyan_core, g1_magenta_core, g1_red_core, g1_black_core, g1_blue_core, g1_yellow_core],
    [g2_green_core, g2_cyan_core, g2_magenta_core, g2_red_core, g2_black_core, g2_blue_core, g2_yellow_core],
    [g3_green_core, g3_cyan_core, g3_magenta_core, g3_red_core, g3_black_core, g3_blue_core, g3_yellow_core],
    [g4_green_core, g4_cyan_core, g4_magenta_core, g4_red_core, g4_black_core, g4_blue_core, g4_yellow_core],
]
# plot-area rectangles in pixels: left, right, top, bottom
rects = [(57.5, 316, 8.5, 188.5), (365.5, 630.5, 8.5, 188.5), (54, 315.5, 226.5, 426.5), (367.5, 631, 229.5, 421.5)]
ranges = [((-0.05, 0.1), (-0.1, 0.05)), ((-0.1, 0.05), (-0.1, 0.1)), ((-5000, 15000), (-2000, 2000)), ((-5000, 15000), (-2000, 2000))]
ticks = [(tick_p1_x, tick_p1_y), (tick_p2_x, tick_p2_y), (tick_pca_x, tick_pca_y), (tick_pca_x, tick_pca_y)]
boxes = [(238.7, 312, 154, 182.3, 276.7, 170), (368.3, 428.3, 156.7, 183.3, 401, 173),
         (253.3, 312, 393, 419.7, 285, 410), (373.3, 424.3, 392.3, 419, 399, 409)]

fig = go.Figure()
layout = dict(width=W, height=H, margin=dict(l=0, r=0, t=0, b=0, pad=0, autoexpand=False), autosize=False, showlegend=False,
              paper_bgcolor="white", plot_bgcolor="white",
              font=dict(family="Liberation Sans, Arial, sans-serif", size=15, color="#404040"))
shapes, annotations = [], []
for i, (series, core, rect, rng, tk, box, name) in enumerate(zip(panels, cores, rects, ranges, ticks, boxes, names)):
    sfx = "" if i == 0 else str(i + 1)
    for pts, cpts, (sym, col, size, csym, csize) in zip(series, core, styles):
        if cpts:
            fig.add_trace(go.Scatter(x=[p[0] for p in cpts], y=[p[1] for p in cpts], mode="markers",
                                     xaxis="x" + sfx, yaxis="y" + sfx,
                                     marker=dict(symbol=csym, color=col, size=csize, line=dict(width=0))))
        fig.add_trace(go.Scatter(x=[p[0] for p in pts], y=[p[1] for p in pts], mode="markers",
                                 xaxis="x" + sfx, yaxis="y" + sfx,
                                 marker=dict(symbol=sym, color=col, size=size, line=dict(width=1.2, color=col))))
    common = dict(showgrid=True, gridcolor="#dcdcdc", gridwidth=1, zeroline=False, showline=True, linecolor="#505050",
                  linewidth=1, mirror="ticks", ticks="inside", ticklen=3, tickcolor="#505050", automargin=False,
                  ticklabeloverflow="allow", tickfont=dict(size=15, color="#404040"))
    layout["xaxis" + sfx] = dict(common, domain=[rect[0] / W, rect[1] / W], range=list(rng[0]), tickmode="array",
                                 tickvals=tk[0], ticktext=[str(v) for v in tk[0]], anchor="y" + sfx, ticklabelstandoff=4)
    layout["yaxis" + sfx] = dict(common, domain=[1 - rect[3] / H, 1 - rect[2] / H], range=list(rng[1]), tickmode="array",
                                 tickvals=tk[1], ticktext=[str(v) for v in tk[1]], anchor="x" + sfx)
    shapes.append(dict(type="rect", xref="paper", yref="paper", x0=box[0] / W, x1=box[1] / W,
                       y0=1 - box[3] / H, y1=1 - box[2] / H, fillcolor="white", line=dict(color="#303030", width=1)))
    annotations.append(dict(text=name, xref="paper", yref="paper", x=box[4] / W, y=1 - box[5] / H, showarrow=False,
                            xanchor="center", yanchor="middle", font=dict(size=15, color="#000000")))
layout["shapes"] = shapes
layout["annotations"] = annotations
fig.update_layout(**layout)
# The page's default body margin would push the figure 8 px away from the window corner.
fig.write_html("out.html", config={"displayModeBar": False},
               post_script="document.body.style.margin='0';document.body.style.overflow='hidden';")
